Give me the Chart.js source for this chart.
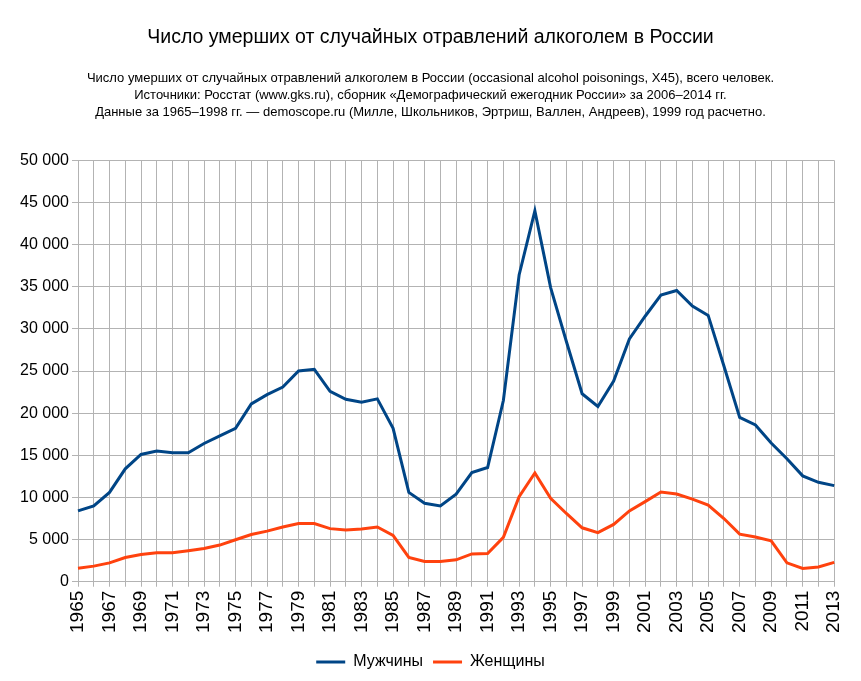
<!DOCTYPE html>
<html>
<head>
<meta charset="utf-8">
<script src="https://cdn.jsdelivr.net/npm/chart.js@4/dist/chart.umd.min.js"></script>
<style>
  html, body { margin: 0; padding: 0; background: #fff; }
  #wrap { width: 861px; height: 681px; }
</style>
</head>
<body>
<div id="wrap"><canvas id="grafico"></canvas></div>
<script>
// Годы
const anos = ['1965', '1966', '1967', '1968', '1969', '1970', '1971', '1972', '1973', '1974',
    '1975', '1976', '1977', '1978', '1979', '1980', '1981', '1982', '1983', '1984',
    '1985', '1986', '1987', '1988', '1989', '1990', '1991', '1992', '1993', '1994',
    '1995', '1996', '1997', '1998', '1999', '2000', '2001', '2002', '2003', '2004',
    '2005', '2006', '2007', '2008', '2009', '2010', '2011', '2012', '2013'];

// Мужчины
const hombres = [8400, 9000, 10600, 13400, 15100, 15500, 15300, 15300, 16400, 17300,
    18200, 21100, 22200, 23100, 25000, 25200, 22600, 21650, 21300, 21700,
    18200, 10600, 9300, 9000, 10400, 12950, 13550, 21500, 36400, 44000,
    34900, 28500, 22300, 20800, 23800, 28800, 31500, 34000, 34550, 32700,
    31600, 25600, 19500, 18600, 16450, 14600, 12560, 11800, 11400];

// Женщины
const mujeres = [1600, 1850, 2240, 2880, 3240, 3430, 3430, 3670, 3950, 4350,
    4980, 5600, 6000, 6500, 6900, 6900, 6300, 6130, 6250, 6500,
    5500, 2880, 2400, 2400, 2600, 3300, 3350, 5260, 10100, 12900,
    9900, 8100, 6400, 5830, 6800, 8400, 9500, 10650, 10400, 9800,
    9100, 7500, 5650, 5300, 4860, 2240, 1570, 1760, 2290];

const titulo = 'Число умерших от случайных отравлений алкоголем в России';
const subtitulo = [
    'Число умерших от случайных отравлений алкоголем в России (occasional alcohol poisonings, X45), всего человек.',
    'Источники: Росстат (www.gks.ru), сборник «Демографический ежегодник России» за 2006–2014 гг.',
    'Данные за 1965–1998 гг. — demoscope.ru (Милле, Школьников, Эртриш, Валлен, Андреев), 1999 год расчетно.'
];

const fuente = 'Liberation Sans, Arial, sans-serif';
const gris = '#b3b3b3';

function miles(v) {
    return String(v).replace(/\B(?=(\d{3})+(?!\d))/g, ' ');
}

const ctx = document.getElementById('grafico').getContext('2d');
const chart = new Chart(ctx, {
    type: 'line',
    data: {
        labels: anos,
        datasets: [{
            label: 'Мужчины',
            data: hombres,
            borderColor: '#004586',
            backgroundColor: '#004586',
            borderWidth: 3,
            pointRadius: 0,
            tension: 0
        }, {
            label: 'Женщины',
            data: mujeres,
            borderColor: '#ff420e',
            backgroundColor: '#ff420e',
            borderWidth: 3,
            pointRadius: 0,
            tension: 0
        }]
    },
    options: {
        responsive: true,
        maintainAspectRatio: false,
        animation: false,
        layout: { padding: { left: 0, right: 0, top: 0, bottom: 1 } },
        plugins: {
            title: {
                display: true,
                text: titulo,
                color: '#000',
                font: { family: fuente, size: 19.5, weight: 'normal' },
                padding: { top: 26, bottom: 21 }
            },
            subtitle: {
                display: true,
                text: subtitulo,
                color: '#000',
                font: { family: fuente, size: 13, weight: 'normal', lineHeight: 1.28 },
                padding: { top: 0, bottom: 40 }
            },
            legend: {
                position: 'bottom',
                labels: {
                    color: '#000',
                    font: { family: fuente, size: 16 },
                    usePointStyle: true,
                    pointStyle: 'line',
                    pointStyleWidth: 29,
                    padding: 10
                }
            },
            tooltip: { enabled: false }
        },
        scales: {
            x: {
                grid: { color: gris, lineWidth: 1, tickLength: 5, tickColor: gris },
                border: { color: gris },
                afterFit: function(s) { s.height += 7; },
                ticks: {
                    autoSkip: false,
                    maxRotation: 90,
                    minRotation: 90,
                    padding: 4,
                    color: '#000',
                    font: { family: fuente, size: 19 },
                    callback: function(v, i) { return i % 2 === 0 ? anos[i] : ''; }
                }
            },
            y: {
                min: 0,
                max: 50000,
                grid: { color: gris, lineWidth: 1, tickLength: 6, tickColor: gris },
                border: { color: gris },
                afterFit: function(s) { s.width = 78; },
                ticks: {
                    stepSize: 5000,
                    padding: 3,
                    color: '#000',
                    font: { family: fuente, size: 16 },
                    callback: function(v) { return miles(v); }
                }
            },
            // пустая ось справа — только отступ
            margen: {
                position: 'right',
                grid: { display: false },
                border: { display: false },
                ticks: { display: false },
                afterFit: function(s) { s.width = 26; }
            }
        }
    }
});
</script>
</body>
</html>
